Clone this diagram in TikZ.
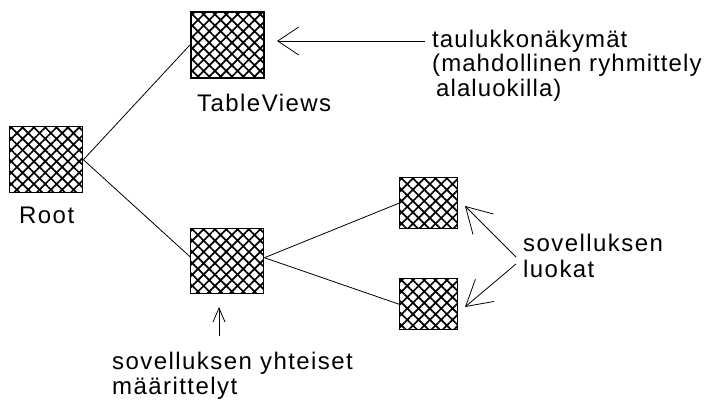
\documentclass[tikz,border=0pt]{standalone}
\usepackage{fontspec}
\setmainfont{Liberation Sans}[LetterSpace=6]
\newfontfamily\notefont{Liberation Sans}[LetterSpace=4.5]
\usetikzlibrary{patterns.meta,arrows.meta}
\begin{document}
\begin{tikzpicture}[x=1pt,y=-1pt,
  hatchbox/.style={draw,line width=1.4pt,
    pattern={Hatch[angle=45,distance=8pt,line width=1.7pt]},
    minimum width=73pt,minimum height=66pt,inner sep=0pt,anchor=north west},
  smallbox/.style={hatchbox,minimum width=58pt,minimum height=51pt},
  lbl/.style={anchor=base west,align=left,inner sep=0pt,
    font=\fontsize{24}{25.5}\selectfont},
  link/.style={line width=0.8pt},
  bigptr/.style={line width=0.8pt,-{Straight Barb[length=21pt,width=28pt]}},
  sideptr/.style={line width=0.8pt,-{Straight Barb[length=25pt,width=29pt]}},
  smallptr/.style={line width=0.8pt,-{Straight Barb[length=14pt,width=12pt]}}
]
\useasboundingbox (0,0) rectangle (704,399);
% boxes
\node[hatchbox] (tv) at (190,11) {};
\node[hatchbox] (root) at (9,126) {};
\node[hatchbox,minimum height=65pt] (mid) at (190,228) {};
\node[smallbox] (ur) at (399,177) {};
\node[smallbox] (lr) at (399,278) {};
% links
\draw[link] (root.east) -- (tv.west);
\draw[link] (root.east) -- ([yshift=4.5pt]mid.west);
\draw[link] ([yshift=3.5pt]mid.east) -- (ur.west);
\draw[link] ([yshift=3.5pt]mid.east) -- (lr.west);
% labels (multi-line labels are placed by their last baseline)
\node[lbl] (tvl) at (197,111) {TableViews};
\node[lbl] (rootl) at (19,223) {Root};
\node[lbl,font=\notefont\fontsize{24}{24.5}\selectfont] (note1) at (432,96)
  {taulukkonäkymät\\(mahdollinen ryhmittely\\\hspace*{4pt}alaluokilla)};
\node[lbl,font=\fontsize{24}{26}\selectfont] (note2) at (523,277) {sovelluksen\\luokat};
\node[lbl] (note3) at (112,394.5) {sovelluksen yhteiset\\määrittelyt};
% pointers
\coordinate (p1s) at (425,41);  \coordinate (p1e) at (277,41);
\coordinate (p2s) at (516,257); \coordinate (p2e) at (465,206);
\coordinate (p3s) at (516,264); \coordinate (p3e) at (465,307);
\coordinate (p4s) at (219,336); \coordinate (p4e) at (219,307);
\draw[bigptr] (p1s) -- (p1e);
\draw[sideptr] (p2s) -- (p2e);
\draw[sideptr] (p3s) -- (p3e);
\draw[smallptr] (p4s) -- (p4e);
\end{tikzpicture}
\end{document}
